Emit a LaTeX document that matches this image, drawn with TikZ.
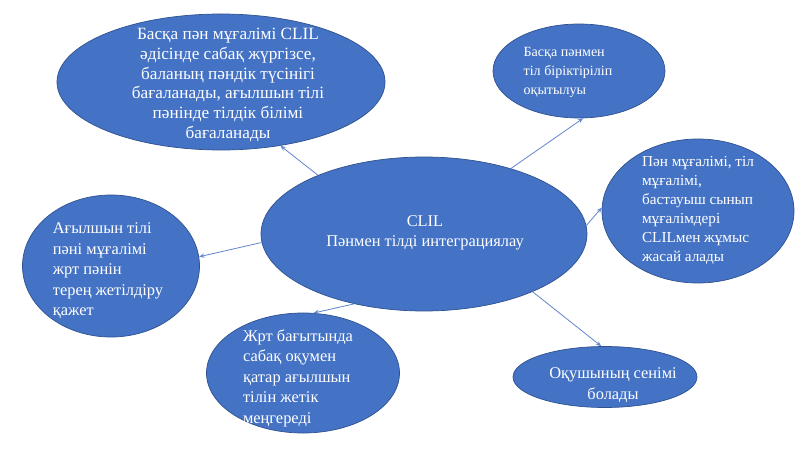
\documentclass[tikz,border=0pt]{standalone}
\usepackage{fontspec}
\setmainfont{Liberation Serif}
\usepackage{tikz}
\usepackage{xcolor}
\usetikzlibrary{shapes.geometric, arrows.meta}
\definecolor{cFill}{RGB}{68,114,196}
\definecolor{cEdge}{RGB}{47,82,143}
\definecolor{cLink}{RGB}{100,136,204}
\tikzset{
	bubble/.style ={ellipse, draw=cEdge, line width=0.6pt, fill=cFill, inner sep=0pt},
	btext/.style  ={text=white, inner sep=0pt, font=\fontsize{14}{17.5}\selectfont},
	link/.style   ={draw=cLink, line width=0.7pt, -{Stealth[length=1.6mm, width=1.3mm]}},
}
\begin{document}
\begin{tikzpicture}[x=0.03cm, y=-0.03cm]
	\useasboundingbox (0,0) rectangle (800,450);
	% ellipses
	\node[bubble, minimum width=9.78cm, minimum height=4.62cm] (c)  at (424,234) {};
	\node[bubble, minimum width=9.84cm, minimum height=4.08cm] (tl) at (221,82)  {};
	\node[bubble, minimum width=5.16cm, minimum height=2.82cm] (tr) at (579,71)  {};
	\node[bubble, minimum width=5.76cm, minimum height=4.32cm] (r)  at (698,211) {};
	\node[bubble, minimum width=5.31cm, minimum height=4.26cm] (l)  at (111,266) {};
	\node[bubble, minimum width=5.79cm, minimum height=3.6cm]  (b)  at (303,373) {};
	\node[bubble, minimum width=5.52cm, minimum height=1.83cm] (br) at (605,377) {};
	% texts
	\node[btext, align=center] (ct)  at (425,233) {CLIL\\Пәнмен тілді интеграциялау};
	\node[btext, align=center, font=\fontsize{14.7}{17}\selectfont] (tlt) at (228,85)
		{Басқа пән мұғалімі CLIL\\әдісінде сабақ жүргізсе,\\баланың пәндік түсінігі\\бағаланады, ағылшын тілі\\пәнінде тілдік білімі\\бағаланады};
	\node[btext, align=left, font=\fontsize{12}{16.2}\selectfont] (trt) at (568,72) {Басқа пәнмен\\тіл біріктіріліп\\оқытылуы};
	\node[btext, align=left, font=\fontsize{13}{16.2}\selectfont] (rt)  at (698,210)
		{Пән мұғалімі, тіл\\мұғалімі,\\бастауыш сынып\\мұғалімдері\\CLILмен жұмыс\\жасай алады};
	\node[btext, align=left] (lt)  at (108,271) {Ағылшын тілі\\пәні мұғалімі\\жрт пәнін\\терең жетілдіру\\қажет};
	\node[btext, align=left] (bt)  at (298,378) {Жрт бағытында\\сабақ оқумен\\қатар ағылшын\\тілін жетік\\меңгереді};
	\node[btext, align=center] (brt) at (613,385) {Оқушының сенімі\\болады};
	% connectors
	\draw[link] (c.151) -- (tl.313);
	\draw[link] (c.37)  -- (tr.275);
	\draw[link] (c.3)   -- (r.178);
	\draw[link] (c.183) -- (l.6);
	\draw[link] (c.225) -- (b.80);
	\draw[link] (c.332) -- (br.97);
\end{tikzpicture}
\end{document}
